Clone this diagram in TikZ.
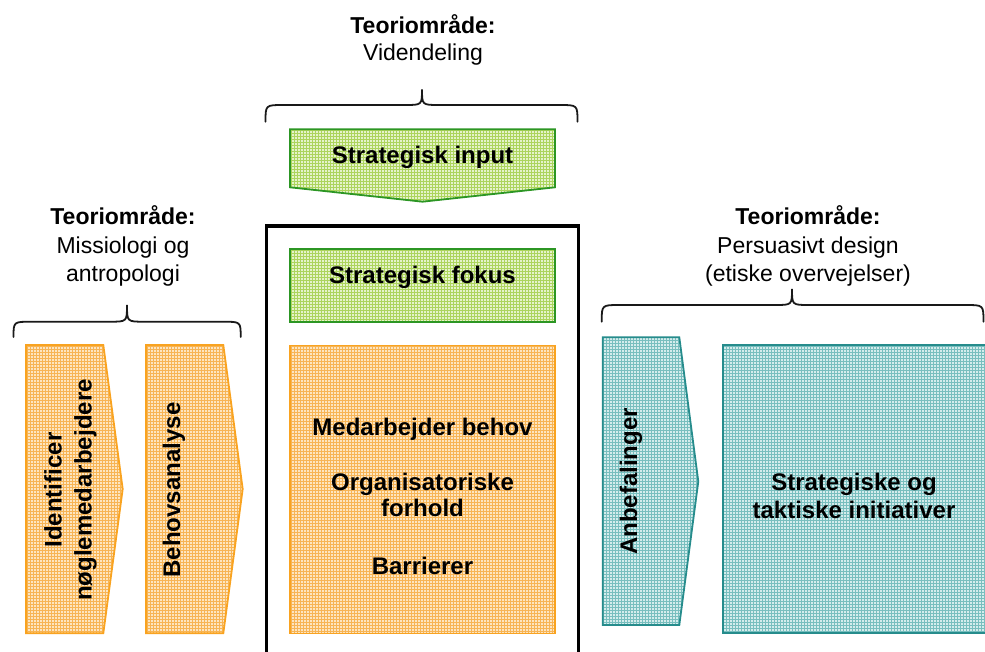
\documentclass[tikz,border=0pt]{standalone}
\usepackage{fontspec}
\setmainfont{Liberation Sans}
\usetikzlibrary{patterns}

\definecolor{orline}{RGB}{249,163,32}
\definecolor{orbase}{RGB}{253,229,192}
\definecolor{orgrid}{RGB}{247,180,85}
\definecolor{grline}{RGB}{44,150,36}
\definecolor{grbase}{RGB}{229,243,202}
\definecolor{grgrid}{RGB}{172,212,92}
\definecolor{tlline}{RGB}{38,140,140}
\definecolor{tlbase}{RGB}{212,236,236}
\definecolor{tlgrid}{RGB}{120,190,190}

% curly brace: x-left, x-right, x-tip, y-ends, y-bar, y-tip
\newcommand\drawcurly[6]{%
  \draw[bracestroke] (#1,#4) .. controls (#1,#5) .. (#1+18,#5) -- (#3-17,#5)
    .. controls (#3,#5) .. (#3,#6) .. controls (#3,#5) .. (#3+17,#5)
    -- (#2-18,#5) .. controls (#2,#5) .. (#2,#4);}

\begin{document}
\begin{tikzpicture}[x=1pt,y=-1pt,
  boldtext/.style={font=\fontsize{24}{29}\selectfont\bfseries, inner sep=0pt, anchor=base},
  headtext/.style={font=\fontsize{23}{28}\selectfont, inner sep=0pt, anchor=base},
  headbold/.style={font=\fontsize{23}{28}\selectfont\bfseries, inner sep=0pt, anchor=base},
  bracestroke/.style={draw=black!90, line width=1.8pt, line cap=round},
  orangeshape/.style={draw=orline, line width=1.8pt, preaction={fill=orbase}, pattern=grid, pattern color=orgrid},
  greenshape/.style={draw=grline, line width=1.8pt, preaction={fill=grbase}, pattern=grid, pattern color=grgrid},
  tealshape/.style={draw=tlline, line width=1.8pt, preaction={fill=tlbase}, pattern=grid, pattern color=tlgrid},
  frame/.style={draw=black, line width=3.5pt}
]
\useasboundingbox (0,0) rectangle (985,652);

% ---------- centre column: Videndeling ----------
\node[headbold] (th1) at (423,33.5) {Teoriområde:};
\node[headtext] (th2) at (423,61) {Videndeling};
\drawcurly{265.5}{577.5}{422}{121.7}{105}{89.3}

\draw[greenshape] (290,129.3) -- (555,129.3) -- (555,187.3) -- (422.5,201.7) -- (290,187.3) -- cycle;
\node[boldtext] (sinput) at (422.5,163.3) {Strategisk input};

\draw[frame] (266.5,660) -- (266.5,226) -- (578.5,226) -- (578.5,660);

\draw[greenshape] (290,249.3) rectangle (555,321.7);
\node[boldtext] (sfokus) at (422.5,283.5) {Strategisk fokus};

\draw[orangeshape] (290,345.5) rectangle (555.3,633.5);
\node[boldtext] (mb) at (422.5,435) {Medarbejder behov};
\node[boldtext] (of1) at (422.5,490.5) {Organisatoriske};
\node[boldtext] (of2) at (422.5,516) {forhold};
\node[boldtext] (bar) at (422.5,574) {Barrierer};

% ---------- left column: Missiologi og antropologi ----------
\node[headbold] (lh1) at (123,225) {Teoriområde:};
\node[headtext] (lh2) at (123,253.3) {Missiologi og};
\node[headtext] (lh3) at (123,281.6) {antropologi};
\drawcurly{13.5}{240.7}{127}{337}{321.7}{305}

\draw[orangeshape] (26,345) -- (103.3,345) -- (122.7,489) -- (103.3,633.3) -- (26,633.3) -- cycle;
\node[boldtext, rotate=90] (id1) at (61.7,490) {Identificer};
\node[boldtext, rotate=90] (id2) at (91.5,490) {nøglemedarbejdere};

\draw[orangeshape] (146,345) -- (223.3,345) -- (242.7,489) -- (223.3,633.3) -- (146,633.3) -- cycle;
\node[boldtext, rotate=90] (ba) at (180,490) {Behovsanalyse};

% ---------- right column: Persuasivt design ----------
\node[headbold] (rh1) at (808,225) {Teoriområde:};
\node[headtext] (rh2) at (808,253.3) {Persuasivt design};
\node[headtext] (rh3) at (808,281.6) {(etiske overvejelser)};
\drawcurly{601.7}{983.5}{792}{321.7}{305}{289}

\draw[tealshape] (602.7,337.3) -- (679.3,337.3) -- (698.3,481.5) -- (679.3,625) -- (602.7,625) -- cycle;
\node[boldtext, rotate=90] (anb) at (637,481.5) {Anbefalinger};

\draw[tealshape] (722.7,345) rectangle (1000,633.3);
\node[boldtext] (st1) at (854,490.7) {Strategiske og};
\node[boldtext] (st2) at (854,518.3) {taktiske initiativer};
\end{tikzpicture}
\end{document}
